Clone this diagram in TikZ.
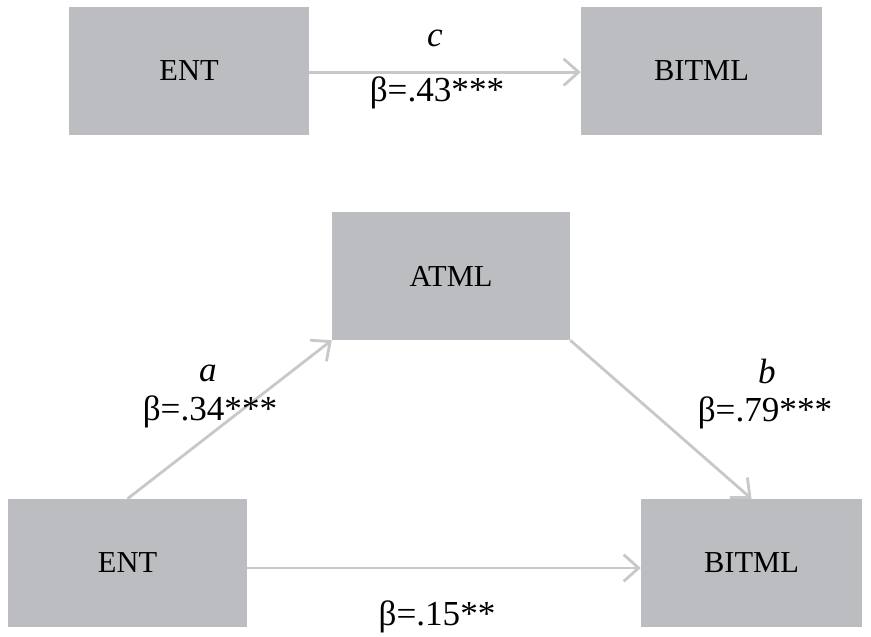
\documentclass[tikz,border=0pt]{standalone}
\usepackage{fontspec}
\setmainfont{Liberation Serif}
\usetikzlibrary{arrows.meta}

\definecolor{boxgray}{RGB}{188,189,193}
\definecolor{linegray}{RGB}{200,200,202}

\tikzset{
	varbox/.style={fill=boxgray, inner sep=0pt, minimum height=3.84cm, font=\fontsize{26}{30}\selectfont},
	path/.style={draw=linegray, line width=2.4pt, -{Straight Barb[length=4.5mm, width=8mm, line width=2.4pt]}},
	coef/.style={anchor=base, inner sep=0pt, font=\fontsize{30}{35}\selectfont},
}

\begin{document}
\begin{tikzpicture}[x=0.03cm, y=-0.03cm]
	\useasboundingbox (0,0) rectangle (871,636);
	% total effect
	\node[varbox, minimum width=7.2cm] (ent1) at (189,70.5) {ENT};
	\node[varbox, minimum width=7.23cm] (bitml1) at (701.5,70.5) {BITML};
	\draw[path] ([yshift=-0.05cm]ent1.east) -- ([yshift=-0.05cm]bitml1.west);
	\node[coef] (lc) at (435,46) {\textit{c}};
	\node[coef] (bc) at (437,101) {β=.43***};
	% mediation model
	\node[varbox, minimum width=7.14cm] (atml) at (451,276) {ATML};
	\node[varbox, minimum width=7.17cm] (ent2) at (127.5,563) {ENT};
	\node[varbox, minimum width=6.63cm] (bitml2) at (751.5,563) {BITML};
	\draw[path] (ent2.north) -- (atml.south west);
	\draw[path] (atml.south east) -- (bitml2.north);
	\draw[path] ([yshift=-0.15cm]ent2.east) -- ([yshift=-0.15cm]bitml2.west);
	\node[coef] (la) at (208,381) {\textit{a}};
	\node[coef] (ba) at (210,420) {β=.34***};
	\node[coef] (lb) at (767,383) {\textit{b}};
	\node[coef] (bb) at (765,421) {β=.79***};
	\node[coef] (bd) at (437,625) {β=.15**};
\end{tikzpicture}
\end{document}
